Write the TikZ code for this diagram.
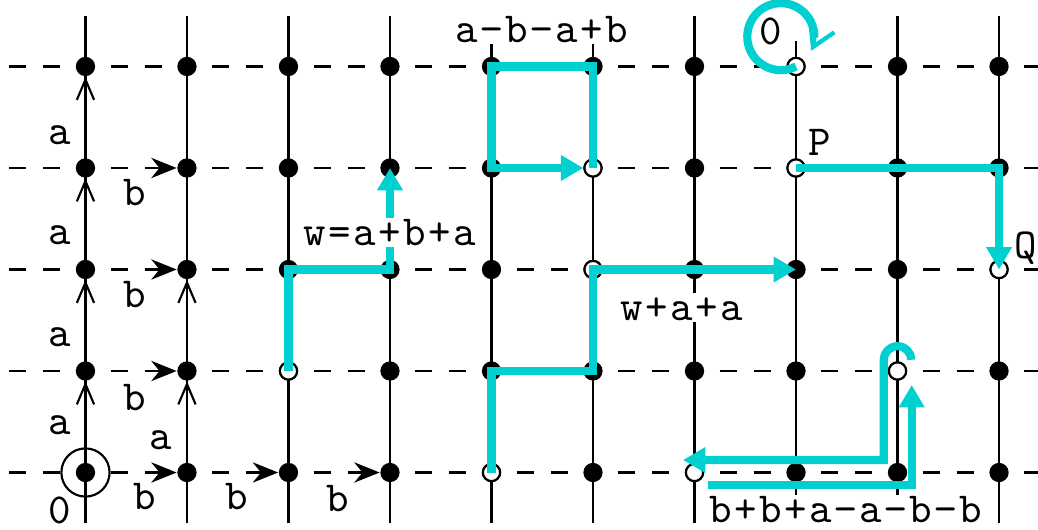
\documentclass[tikz,border=0pt]{standalone}
\usepackage{fontspec}
\newfontfamily\codefont{lmmono10-regular.otf}[LetterSpace=6]
\usetikzlibrary{arrows.meta,calc}
\definecolor{pathcyan}{RGB}{0,208,208}
\tikzset{
  grid line/.style={line width=0.6pt},
  dot/.style={circle,fill=black,inner sep=0pt,minimum size=0.19cm},
  hole/.style={circle,draw=black,fill=white,line width=0.6pt,inner sep=0pt,minimum size=0.17cm},
  lbl/.style={font=\codefont\fontsize{12}{14}\selectfont,inner sep=0pt},
  wlbl/.style={lbl,fill=white,anchor=base,text height=7pt,text depth=0pt,inner xsep=2.5pt,inner ysep=0.5pt},
  aarrow/.style={grid line,-{Straight Barb[length=0.2cm,width=0.17cm]}},
  barrow/.style={grid line,-{Stealth[length=0.25cm,width=0.2cm]},shorten <=0.56cm},
  wpath/.style={pathcyan,line width=2.3pt},
  warrow/.style={wpath,-{Triangle[length=0.22cm,width=0.24cm]}},
}
\begin{document}
\begin{tikzpicture}
  \useasboundingbox (-0.842,-0.557) rectangle (9.384,4.655);
  % 横向虚线
  \foreach \y in {0,...,4}
    \draw[grid line,dash pattern=on 0.1667cm off 0.1666cm] (-0.75,\y) -- (9.4,\y);
  % 竖线
  \foreach \x in {0,...,6,8,9}
    \draw[grid line] (\x,-0.5) -- (\x,4.5);
  \draw[grid line] (7,-0.5) -- (7,4.25);
  % 格点与空心点
  \foreach \x in {0,...,9}
    \foreach \y in {0,...,4}
      \node[dot] (n\x-\y) at (\x,\y) {};
  \foreach \p in {2-1,4-0,5-3,5-2,7-4,7-3,9-2,8-1,6-0}
    \node[hole] (h\p) at (n\p) {};
  \node[circle,draw,grid line,minimum size=0.475cm,inner sep=0pt] (o) at (n0-0) {};
  % 生成元 a, b
  \foreach \y/\z in {0/1,1/2,2/3,3/4}
    \draw[aarrow] (n0-\y) -- (n0-\z);
  \foreach \y/\z in {0/1,1/2}
    \draw[aarrow] (n1-\y) -- (n1-\z);
  \foreach \y in {1,2,3}
    \draw[barrow] (n0-\y) -- (n1-\y);
  \foreach \x/\z in {0/1,1/2,2/3}
    \draw[barrow] (n\x-0) -- (n\z-0);
  \foreach \y [count=\i] in {3.325,2.34,1.335,0.468}
    \node[lbl] (la\i) at (-0.25,\y) {a};
  \node[lbl] (la5) at (0.744,0.32) {a};
  \foreach \x/\y [count=\i] in {0.49/2.76,0.49/1.75,0.49/0.734,0.58/-0.24,1.49/-0.24,2.49/-0.26}
    \node[lbl] (lb\i) at (\x,\y) {b};
  \node[lbl] (l0) at (-0.25,-0.375) {0};
  % 路径
  \draw[warrow] (h2-1.center) -- (n2-2.center) -- (n3-2.center) -- (n3-3.center);
  \draw[warrow] (h4-0.center) |- (n5-1.center) |- (n7-2.center);
  \draw[warrow] (h5-3.center) -- (n5-4.center) -- (n4-4.center) -- (n4-3.center) -- (h5-3.west);
  \draw[warrow] (h7-3.center) -| (h9-2.center);
  \draw[wpath] (h7-4.center) arc[start angle=-63,end angle=-362,radius=0.33] coordinate (loopend);
  \draw[pathcyan,line width=1.2pt,-{Straight Barb[length=0.22cm,width=0.26cm]}]
    (loopend) arc[start angle=-362,end angle=-385,radius=0.33];
  \draw[warrow] ($(h6-0)+(0.13,-0.125)$) -| ($(h8-1)+(0.14,-0.138)$);
  \draw[warrow] ($(h8-1)+(0.135,0.11)$) arc[start angle=0,end angle=180,radius=0.135]
    |- ($(h6-0)+(-0.113,0.123)$);
  % 标注
  \node[wlbl] (w) at (2.995,2.241) {w=a+b+a};
  \node[wlbl] (waa) at (5.874,1.502) {w+a+a};
  \node[wlbl] (abab) at (4.497,4.241) {a−b−a+b};
  \node[wlbl] (bbab) at (7.49,-0.488) {b+b+a−a−b−b};
  \node[lbl] (P) at (7.236,3.256) {P};
  \node[lbl,anchor=west] (Q) at (9.15,2.21) {Q};
  \node[lbl] (z) at (6.754,4.35) {0};
\end{tikzpicture}
\end{document}
